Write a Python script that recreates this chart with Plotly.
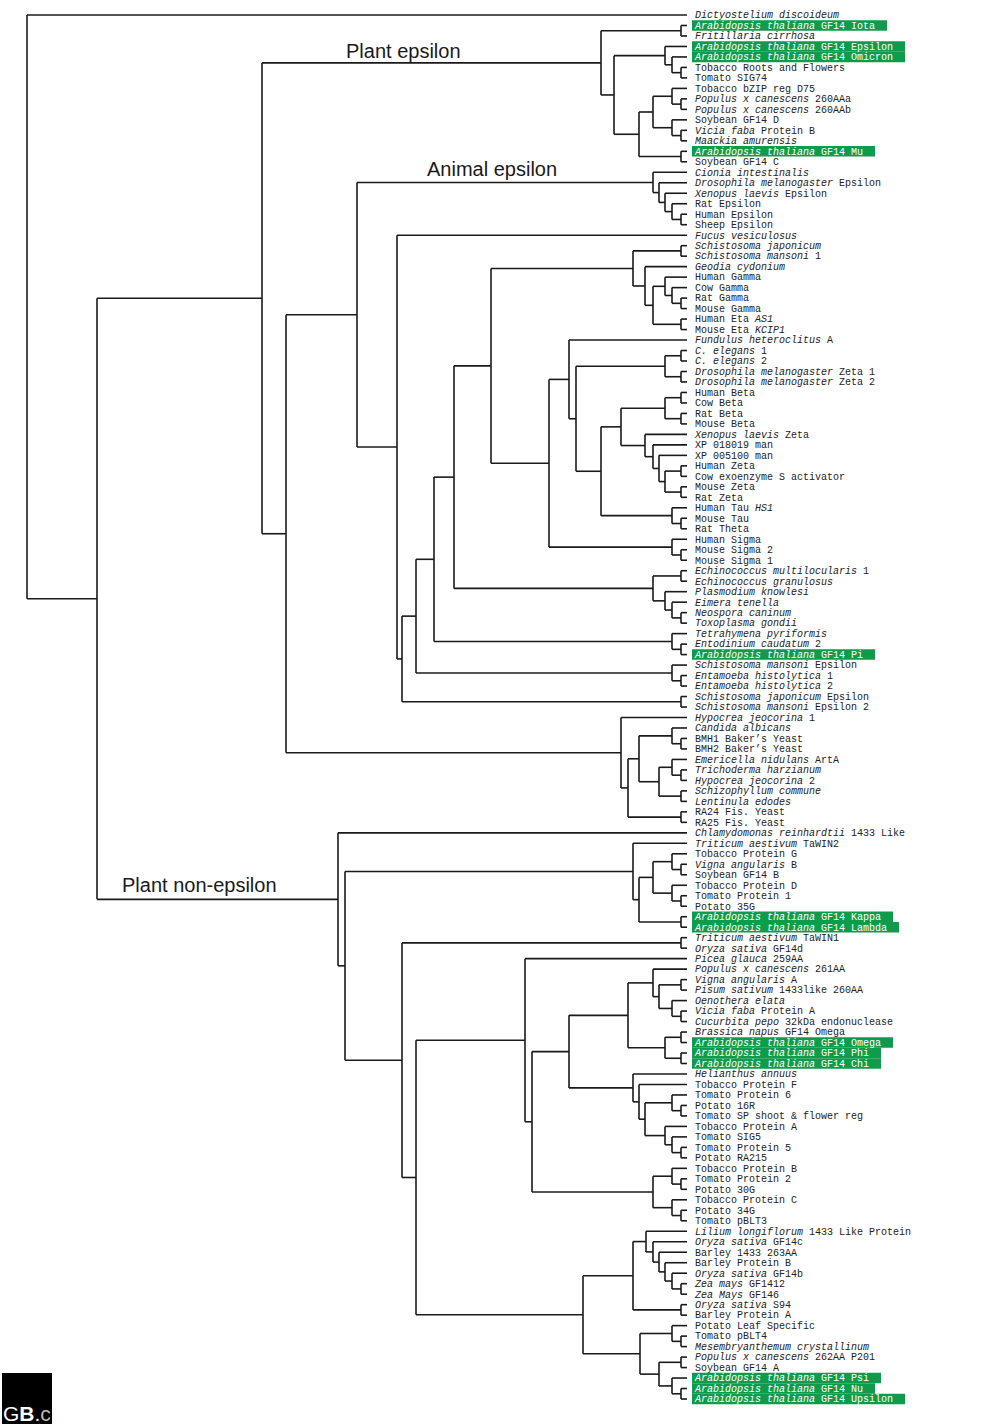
import re
import plotly.graph_objects as go

# ---------------- data ----------------
leaf_labels = [
    "<i>Dictyostelium discoideum</i>",
    "<i>Arabidopsis thaliana</i> GF14 Iota",
    "<i>Fritillaria cirrhosa</i>",
    "<i>Arabidopsis thaliana</i> GF14 Epsilon",
    "<i>Arabidopsis thaliana</i> GF14 Omicron",
    "Tobacco Roots and Flowers",
    "Tomato SIG74",
    "Tobacco bZIP reg D75",
    "<i>Populus x canescens</i> 260AAa",
    "<i>Populus x canescens</i> 260AAb",
    "Soybean GF14 D",
    "<i>Vicia faba</i> Protein B",
    "<i>Maackia amurensis</i>",
    "<i>Arabidopsis thaliana</i> GF14 Mu",
    "Soybean GF14 C",
    "<i>Cionia intestinalis</i>",
    "<i>Drosophila melanogaster</i> Epsilon",
    "<i>Xenopus laevis</i> Epsilon",
    "Rat Epsilon",
    "Human Epsilon",
    "Sheep Epsilon",
    "<i>Fucus vesiculosus</i>",
    "<i>Schistosoma japonicum</i>",
    "<i>Schistosoma mansoni</i> 1",
    "<i>Geodia cydonium</i>",
    "Human Gamma",
    "Cow Gamma",
    "Rat Gamma",
    "Mouse Gamma",
    "Human Eta <i>AS1</i>",
    "Mouse Eta <i>KCIP1</i>",
    "<i>Fundulus heteroclitus</i> A",
    "<i>C. elegans</i> 1",
    "<i>C. elegans</i> 2",
    "<i>Drosophila melanogaster</i> Zeta 1",
    "<i>Drosophila melanogaster</i> Zeta 2",
    "Human Beta",
    "Cow Beta",
    "Rat Beta",
    "Mouse Beta",
    "<i>Xenopus laevis</i> Zeta",
    "XP 018019 man",
    "XP 005100 man",
    "Human Zeta",
    "Cow exoenzyme S activator",
    "Mouse Zeta",
    "Rat Zeta",
    "Human Tau <i>HS1</i>",
    "Mouse Tau",
    "Rat Theta",
    "Human Sigma",
    "Mouse Sigma 2",
    "Mouse Sigma 1",
    "<i>Echinococcus multilocularis</i> 1",
    "<i>Echinococcus granulosus</i>",
    "<i>Plasmodium knowlesi</i>",
    "<i>Eimera tenella</i>",
    "<i>Neospora caninum</i>",
    "<i>Toxoplasma gondii</i>",
    "<i>Tetrahymena pyriformis</i>",
    "<i>Entodinium caudatum</i> 2",
    "<i>Arabidopsis thaliana</i> GF14 Pi",
    "<i>Schistosoma mansoni</i> Epsilon",
    "<i>Entamoeba histolytica</i> 1",
    "<i>Entamoeba histolytica</i> 2",
    "<i>Schistosoma japonicum</i> Epsilon",
    "<i>Schistosoma mansoni</i> Epsilon 2",
    "<i>Hypocrea jeocorina</i> 1",
    "<i>Candida albicans</i>",
    "BMH1 Baker\u2019s Yeast",
    "BMH2 Baker\u2019s Yeast",
    "<i>Emericella nidulans</i> ArtA",
    "<i>Trichoderma harzianum</i>",
    "<i>Hypocrea jeocorina</i> 2",
    "<i>Schizophyllum commune</i>",
    "<i>Lentinula edodes</i>",
    "RA24 Fis. Yeast",
    "RA25 Fis. Yeast",
    "<i>Chlamydomonas reinhardtii</i> 1433 Like",
    "<i>Triticum aestivum</i> TaWIN2",
    "Tobacco Protein G",
    "<i>Vigna angularis</i> B",
    "Soybean GF14 B",
    "Tobacco Protein D",
    "Tomato Protein 1",
    "Potato 35G",
    "<i>Arabidopsis thaliana</i> GF14 Kappa",
    "<i>Arabidopsis thaliana</i> GF14 Lambda",
    "<i>Triticum aestivum</i> TaWIN1",
    "<i>Oryza sativa</i> GF14d",
    "<i>Picea glauca</i> 259AA",
    "<i>Populus x canescens</i> 261AA",
    "<i>Vigna angularis</i> A",
    "<i>Pisum sativum</i> 1433like 260AA",
    "<i>Oenothera elata</i>",
    "<i>Vicia faba</i> Protein A",
    "<i>Cucurbita pepo</i> 32kDa endonuclease",
    "<i>Brassica napus</i> GF14 Omega",
    "<i>Arabidopsis thaliana</i> GF14 Omega",
    "<i>Arabidopsis thaliana</i> GF14 Phi",
    "<i>Arabidopsis thaliana</i> GF14 Chi",
    "<i>Helianthus annuus</i>",
    "Tobacco Protein F",
    "Tomato Protein 6",
    "Potato 16R",
    "Tomato SP shoot &amp; flower reg",
    "Tobacco Protein A",
    "Tomato SIG5",
    "Tomato Protein 5",
    "Potato RA215",
    "Tobacco Protein B",
    "Tomato Protein 2",
    "Potato 30G",
    "Tobacco Protein C",
    "Potato 34G",
    "Tomato pBLT3",
    "<i>Lilium longiflorum</i> 1433 Like Protein",
    "<i>Oryza sativa</i> GF14c",
    "Barley 1433 263AA",
    "Barley Protein B",
    "<i>Oryza sativa</i> GF14b",
    "<i>Zea mays</i> GF1412",
    "<i>Zea Mays</i> GF146",
    "<i>Oryza sativa</i> S94",
    "Barley Protein A",
    "Potato Leaf Specific",
    "Tomato pBLT4",
    "<i>Mesembryanthemum crystallinum</i>",
    "<i>Populus x canescens</i> 262AA P201",
    "Soybean GF14 A",
    "<i>Arabidopsis thaliana</i> GF14 Psi",
    "<i>Arabidopsis thaliana</i> GF14 Nu",
    "<i>Arabidopsis thaliana</i> GF14 Upsilon",
]

# Arabidopsis GF14 isoforms that are highlighted
highlighted = [1, 3, 4, 13, 61, 86, 87, 98, 99, 100, 130, 131, 132]


def N(depth, a, b):
    """Internal tree node at a given depth with two children (ints are leaf indices)."""
    return (depth, (a, b))


# Plant epsilon clade
pe_a = N(681, 1, 2)
pe_b = N(665, 3, N(672, 4, N(681, 5, 6)))
pe_c = N(653, N(672, 7, N(681, 8, 9)), N(672, 10, N(681, 11, 12)))
pe_d = N(639, pe_c, N(681, 13, 14))
plant_epsilon = N(601, pe_a, N(614, pe_b, pe_d))

# Animal epsilon clade
animal_epsilon = N(653, 15, N(659, 16, N(665, 17, N(672, 18, N(681, 19, 20)))))

# Animal non-epsilon & protists
ge_gamma = N(665, 25, N(672, 26, N(681, 27, 28)))
gamma_eta = N(633, N(681, 22, 23), N(645, 24, N(653, ge_gamma, N(681, 29, 30))))
celegans_dros = N(665, N(681, 32, 33), N(681, 34, 35))
beta = N(665, N(681, 36, 37), N(681, 38, 39))
zeta_core = N(665, N(681, 43, 44), N(681, 45, 46))
zeta = N(645, 40, N(653, 41, N(659, 42, zeta_core)))
tau = N(672, 47, N(681, 48, 49))
sigma = N(672, 50, N(681, 51, 52))
apicomplexa = N(653, N(681, 53, 54), N(665, 55, N(672, 56, N(681, 57, 58))))
ciliates = N(672, 59, N(681, 60, 61))
entamoeba = N(672, 62, N(681, 63, 64))
ar_a = N(601, N(621, beta, zeta), tau)
ar_b = N(549, N(569, 31, N(576, celegans_dros, ar_a)), sigma)
ar_c = N(491, gamma_eta, ar_b)
animal_rest = N(397, 21, N(402, N(416, N(434, N(454, ar_c, apicomplexa), ciliates), entamoeba), N(681, 65, 66)))

# Fungi
fu_yeast = N(672, 68, N(681, 69, 70))
fu_asco = N(659, N(672, 71, N(681, 72, 73)), N(681, 74, 75))
fungi = N(621, 67, N(628, N(639, fu_yeast, fu_asco), N(681, 76, 77)))

# Plant non-epsilon
tw_a = N(653, N(672, 80, N(681, 81, 82)), N(672, 83, N(681, 84, 85)))
tawin2 = N(633, 79, N(639, tw_a, N(681, 86, 87)))
di_a = N(653, 91, N(659, N(681, 92, 93), N(672, 94, N(681, 95, 96))))
di_b = N(665, N(681, 97, 98), N(681, 99, 100))
di_c = N(645, N(672, 103, N(681, 104, 105)), N(665, 106, N(672, 107, N(681, 108, 109))))
di_d = N(633, 101, N(639, 102, di_c))
di_e = N(653, N(672, 110, N(681, 111, 112)), N(672, 113, N(681, 114, 115)))
dicots = N(525, 90, N(532, N(569, N(628, di_a, di_b), di_d), di_e))
mo_a = N(646, 116, N(653, 117, N(659, 118, N(665, 119, N(672, 120, N(681, 121, 122))))))
mo_b = N(659, N(681, 128, 129), N(672, 130, N(681, 131, 132)))
monocots = N(583, N(633, mo_a, N(681, 123, 124)), N(640, N(672, 125, N(681, 126, 127)), mo_b))
plant_non_epsilon = N(338, 78, N(345, tawin2, N(402, N(681, 88, 89), N(416, dicots, monocots))))

tree = N(27, 0, N(97, N(262, plant_epsilon, N(286, N(357, animal_epsilon, animal_rest), fungi)), plant_non_epsilon))

clade_labels = ["Plant epsilon", "Animal epsilon", "Plant non-epsilon"]

# ---------------- drawing ----------------
W, H = 1000, 1424
TIP_X = 687
LABEL_X = 695
Y0, DY = 15.0, 10.485          # pixel position of first leaf and leaf spacing


def px_to_idx(py):
    return (py - Y0) / DY


seg_x, seg_y = [], []


def place(node):
    if isinstance(node, int):
        return TIP_X, float(node)
    x, kids = node
    pts = [place(k) for k in kids]
    ys = [p[1] for p in pts]
    seg_x.extend([x, x, None])
    seg_y.extend([ys[0], ys[-1], None])
    for kx, ky in pts:
        seg_x.extend([x, kx, None])
        seg_y.extend([ky, ky, None])
    return x, (ys[0] + ys[-1]) / 2


place(tree)
n_leaves = len(leaf_labels)

fig = go.Figure()
fig.add_trace(go.Scatter(x=seg_x, y=seg_y, mode="lines",
                         line=dict(color="#1a1a1a", width=1.6),
                         hoverinfo="skip", showlegend=False))

GREEN = "#0e9c4c"
shapes = []
for i in highlighted:
    n = len(re.sub(r"<[^>]+>", "", leaf_labels[i]))
    shapes.append(dict(type="rect", xref="x", yref="y", layer="below",
                       x0=692, x1=LABEL_X + 6 * n + 12, y0=i - 0.5, y1=i + 0.5,
                       fillcolor=GREEN, line=dict(width=0)))

colors = ["white" if i in highlighted else "#222222" for i in range(n_leaves)]
fig.add_trace(go.Scatter(x=[LABEL_X] * n_leaves, y=[i + 0.08 for i in range(n_leaves)],
                         mode="text", text=leaf_labels, textposition="middle right",
                         textfont=dict(family="Courier New, Liberation Mono, monospace",
                                       size=10, color=colors),
                         hoverinfo="skip", showlegend=False))

annotations = []
clade_pos = [(344, 51), (425, 169), (120, 885)]
for lab, (cx, cy) in zip(clade_labels, clade_pos):
    annotations.append(dict(x=cx, y=px_to_idx(cy), xref="x", yref="y", text=lab,
                            showarrow=False, xanchor="left", yanchor="middle",
                            font=dict(family="Liberation Sans, Arial", size=20, color="#1a1a1a")))

# logo
shapes.append(dict(type="rect", xref="paper", yref="paper",
                   x0=2 / W, x1=52 / W, y0=0, y1=1 - 1373 / H,
                   fillcolor="black", line=dict(width=0)))
annotations.append(dict(x=1 / W, y=-3 / H, xref="paper", yref="paper",
                        text="G<b>B</b>.<span style='color:#bbbbbb'>c</span>",
                        showarrow=False, xanchor="left", yanchor="bottom",
                        font=dict(family="Liberation Sans, Arial", size=21, color="white")))

fig.update_layout(
    width=W, height=H, margin=dict(l=0, r=0, t=0, b=0),
    paper_bgcolor="white", plot_bgcolor="white",
    xaxis=dict(range=[0, W], visible=False, fixedrange=True),
    yaxis=dict(range=[px_to_idx(H), px_to_idx(0)], visible=False, fixedrange=True),
    shapes=shapes, annotations=annotations,
)

fig.write_html("out.html", config={"displayModeBar": False},
               post_script="document.body.style.margin='0';")
